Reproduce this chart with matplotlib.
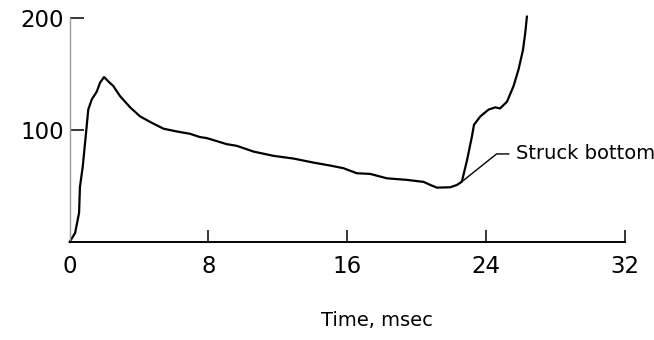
import matplotlib
matplotlib.use("Agg")
import matplotlib.pyplot as plt

# Data
time_ms = [0, 0.32, 0.55, 0.6, 0.76, 0.95, 1.08, 1.28, 1.57, 1.76, 1.99, 2.24, 2.52,
           2.91, 3.49, 4.06, 4.64, 5.41, 6.18, 6.95, 7.52, 7.91, 9.06, 9.64, 10.6,
           11.75, 12.9, 14.05, 15.0, 15.78, 16.55, 17.32, 18.28, 19.43, 20.4, 20.78,
           21.16, 21.93, 22.32, 22.6, 22.9, 23.18, 23.3, 23.67, 24.14, 24.53, 24.8,
           25.2, 25.58, 25.87, 26.12, 26.25, 26.35]
value = [0, 8, 26, 49, 67, 97, 118, 127, 134, 142, 147, 143, 139,
         130, 120, 112, 107, 101, 98.5, 96.4, 93.5, 92.6, 87.2, 85.7, 80.6,
         76.8, 74.4, 70.8, 68.2, 65.8, 61.3, 60.7, 56.8, 55.4, 53.6, 50.9,
         48.5, 48.8, 50.9, 53.8, 73, 94, 104.5, 112, 118, 120, 119,
         125, 139, 154, 171, 186, 201]

x_ticks = [0, 8, 16, 24, 32]
y_ticks = [100, 200]
x_label = "Time, msec"
annotation_text = "Struck bottom"
annot_point = (22.6, 53.8)
annot_elbow = (24.6, 78.5)
annot_text_pos = (25.7, 78.5)

plt.rcParams['font.family'] = ['DejaVu Sans']

fig = plt.figure(figsize=(6.54, 3.4), dpi=100)
ax = fig.add_axes([0.1063, 0.288, 0.8494, 0.6605])

ax.plot(time_ms, value, color='black', lw=1.6, solid_capstyle='round',
        solid_joinstyle='round', clip_on=False)

ax.set_xlim(0, 32)
ax.set_ylim(0, 200)
ax.set_xticks(x_ticks)
ax.set_xticklabels([str(t) for t in x_ticks])
ax.set_yticks(y_ticks)
ax.set_yticklabels([str(t) for t in y_ticks])

for s in ['top', 'right']:
    ax.spines[s].set_visible(False)
ax.spines['left'].set_color('#999999')
ax.spines['left'].set_linewidth(1.0)
ax.spines['bottom'].set_color('black')
ax.spines['bottom'].set_linewidth(1.4)

ax.tick_params(axis='x', direction='in', length=9, width=1.1, color='black',
               labelsize=16.5, pad=9)
ax.tick_params(axis='y', direction='in', length=10, width=1.1, color='black',
               labelsize=16.5, pad=4)
# no separate tick mark at x=0 (coincides with the y axis)
ax.xaxis.get_major_ticks()[0].tick1line.set_visible(False)

ax.set_xlabel(x_label, fontsize=14)
ax.xaxis.set_label_coords(0.554, -0.347)
ax.xaxis.label.set_verticalalignment('center')

# Annotation leader line
ax.plot([annot_point[0], annot_elbow[0], annot_elbow[0] + 0.7],
        [annot_point[1], annot_elbow[1], annot_elbow[1]], color='black', lw=1.0)
ax.text(annot_text_pos[0], annot_text_pos[1], annotation_text, fontsize=14,
        va='center', ha='left')

fig.savefig("out.png", dpi=100)
